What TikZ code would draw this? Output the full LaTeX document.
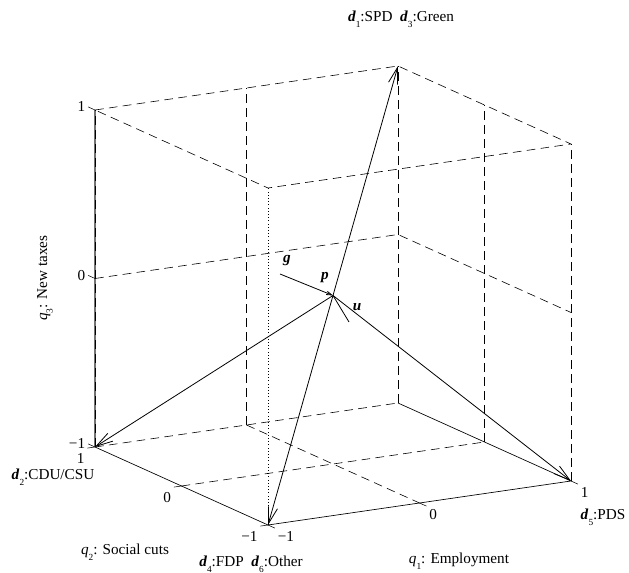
\documentclass[tikz,border=0pt]{standalone}
\usepackage{fontspec}
\setmainfont{Liberation Serif}
\usetikzlibrary{positioning,arrows.meta}
\newcommand{\vd}[1]{\textbf{\textit{d}}\raisebox{-0.8ex}{\scriptsize #1}}
\newcommand{\vq}[1]{\textit{q}\raisebox{-0.8ex}{\scriptsize #1}}
\newcommand{\bv}[1]{\textbf{\textit{#1}}}

\begin{document}
\begin{tikzpicture}[x=0.75pt, y=-0.75pt,
    font=\fontsize{11.4}{13}\selectfont,
    grid/.style={dash pattern=on 6.5pt off 4pt, line width=0.45pt},
    axisline/.style={line width=0.5pt},
    vec/.style={-{Straight Barb[length=12.5pt,width=7pt]}, line width=0.6pt},
    tickmark/.style={line width=0.4pt},
    ticklbl/.style={inner sep=2pt},
]
\useasboundingbox (0,0) rectangle (629,573);

% cube [-1,1]^3 seen from the (-1,-1) corner
\begin{scope}[shift={(333,295.5)}, x={(113.625pt,16.5pt)}, y={(-64.875pt,29.25pt)}, z={(0pt,126.375pt)}]
\coordinate (p) at (0,0,0);
\coordinate (mmm) at (-1,-1,-1); \coordinate (pmm) at (1,-1,-1);
\coordinate (mpm) at (-1,1,-1);  \coordinate (ppm) at (1,1,-1);
\coordinate (mmp) at (-1,-1,1);  \coordinate (pmp) at (1,-1,1);
\coordinate (mpp) at (-1,1,1);   \coordinate (ppp) at (1,1,1);

% box edges
\draw[grid] (mpp) -- (ppp) -- (pmp) -- (mmp) -- cycle;
\draw[grid] (mpm) -- (ppm);
\draw[grid] (ppm) -- (ppp);
\draw[grid] (pmm) -- (pmp);
\draw[dotted, line width=0.4pt] (mmm) -- (mmp);
\draw[axisline] (mpm) -- (mmm) -- (pmm) -- (ppm);
\draw[black!55, line width=1pt] (mpm) -- (mpp);
\draw[grid] (mpm) -- (mpp);

% grid at 0 on the back walls and the floor
\draw[grid] (0,1,-1) -- (0,1,1);
\draw[grid] (-1,1,0) -- (1,1,0) -- (1,-1,0);
\draw[grid] (1,0,-1) -- (1,0,1);
\draw[grid] (0,1,-1) -- (0,-1,-1);
\draw[grid] (-1,0,-1) -- (1,0,-1);

% ticks
\foreach \t/\s in {-1/−1,0/0,1/1} {
  \draw[tickmark] (-1,1,\t) -- (-1,1.08,\t) node[ticklbl, anchor=east] {\s};
  \draw[tickmark] (\t,-1,-1) -- (\t,-1.08,-1) node[ticklbl, anchor=north west] {\s};
}
\foreach \t/\s in {-1/−1,0/0,1/1} {
  \draw[tickmark] (-1,\t,-1) -- (-1.05,\t,-1) node[ticklbl, anchor=north east, yshift=-1.5pt] {\s};
}

% vectors from p
\draw[vec] (p) -- (ppp);
\draw[vec] (p) -- (mmm);
\draw[vec] (p) -- (mpm);
\draw[vec] (p) -- (pmm);
\end{scope}

\coordinate (gend) at (280,274);
\coordinate (uend) at (349,322);
\draw[-{Straight Barb[length=4pt,width=2.5pt]}, line width=0.6pt] (gend) -- (p);
\draw[line width=0.6pt] (p) -- (uend);
\node (glbl) at (287,261) {\bv{g}};
\node (plbl) at (325,278) {\bv{p}};
\node (ulbl) at (357,307) {\bv{u}};

% labels
\node (top) at (401,19) {\vd{1}:SPD\ \ \vd{3}:Green};
\node (cdu) at (53,477) {\vd{2}:CDU/CSU};
\node (fdp) at (251,564) {\vd{4}:FDP\ \ \vd{6}:Other};
\node (pds) at (603,517) {\vd{5}:PDS};
\node (q1lbl) at (459,561) {\vq{1}: Employment};
\node (q2lbl) at (125,552) {\vq{2}: Social cuts};
\node[rotate=90] (q3lbl) at (45,278) {\vq{3}: New taxes};
\end{tikzpicture}
\end{document}
